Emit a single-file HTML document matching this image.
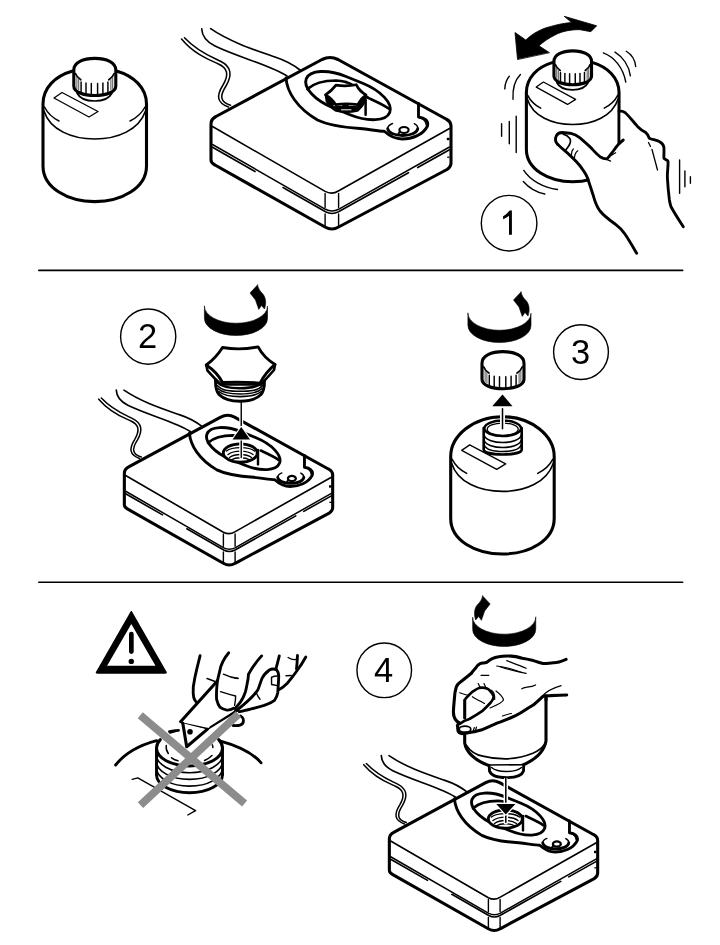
<!DOCTYPE html>
<html><head><meta charset="utf-8"><style>
html,body{margin:0;padding:0;background:#fff;width:720px;height:945px;overflow:hidden}
svg{position:absolute;left:0;top:0;will-change:transform}
text{font-family:"Liberation Sans",sans-serif}
</style></head><body>
<svg width="720" height="945" viewBox="0 0 720 945" fill="none" stroke="#000" stroke-linecap="round" stroke-linejoin="round">
<defs>
<!-- bottle body without cap, in bottle-1 coordinates -->
<g id="bbody">
  <path vector-effect="non-scaling-stroke" d="M72.6,71 C55,76 43,88 43,104 L43,166 C43,188 68,201.6 94.75,201.6 C121.5,201.6 146.5,188 146.5,166 L146.5,104 C146.5,88 134,76 116.4,71" stroke-width="3.08" fill="#fff"/>
  <use href="#binner"/>
</g>
<g id="binner">
  <path vector-effect="non-scaling-stroke" d="M44,111 C50,130 72,139 94.75,139 C117.5,139 139,130 145.5,111" stroke-width="1.62"/>
  <path vector-effect="non-scaling-stroke" d="M44.5,107 C48,114 53,118 59,121" stroke-width="1.51"/>
  <path vector-effect="non-scaling-stroke" d="M145,107 C141.5,114 136,118 130,121" stroke-width="1.51"/>
  <path vector-effect="non-scaling-stroke" d="M54,98 L62,92.5 L98,111.5 L89,117 Z" stroke-width="1.30"/>
</g>
<g id="bcap">
  <path vector-effect="non-scaling-stroke" d="M77,93 C80,99 88,101 94.5,101 C101,101 109,99 112,93" stroke-width="1.73"/>
  <use href="#bcap0"/>
</g>
<g id="bcap0">
  <path vector-effect="non-scaling-stroke" d="M73.8,70 C73.8,62.5 83,58.4 94.8,58.4 C106.6,58.4 115.8,62.5 115.8,70 L115.8,86 C115.8,92 106,95.5 94.8,95.5 C83.6,95.5 73.8,92 73.8,86 Z" stroke-width="3.1" fill="#fff"/>
  <path vector-effect="non-scaling-stroke" d="M75.5,73.5 C76.3,76 78.2,78.2 80.8,79.8 M114.1,73.5 C113.3,76 111.4,78.2 108.8,79.8" stroke-width="1.7"/>
  <path vector-effect="non-scaling-stroke" d="M76.9,77.5 V88.5 M78.7,79 V90" stroke-width="1" stroke="#555"/>
  <path vector-effect="non-scaling-stroke" d="M112.7,77.5 V88.5 M110.9,79 V90" stroke-width="1" stroke="#555"/>
  <path vector-effect="non-scaling-stroke" d="M81.1,82 V92.3 M86,83 V93.3 M91.3,83.5 V94 M97.6,83.5 V94 M102.9,83 V93.5 M107.9,82 V92.5" stroke-width="1.45"/>
</g>
<!-- device, in top-device coordinates -->
<g id="dev">
  <!-- cables -->
<path vector-effect="non-scaling-stroke" d="M181.5,39 C195,55 210,60 218,63.7 C228,68 229,75 223,85 C216,96 217,103 228.5,107" stroke-width="1.51"/>
<path vector-effect="non-scaling-stroke" d="M184.5,37.7 C198,52 212,57 220,61 C231.5,66.5 232.5,75 226,86 C219.5,96 220,102 230.5,105.2" stroke-width="1.51"/>
<path vector-effect="non-scaling-stroke" d="M201.7,28.7 C202,36 207,42 215,46 C240,58 270,65 287,76" stroke-width="1.62"/>
<path vector-effect="non-scaling-stroke" d="M210.6,28.7 C230,42 255,50 275,57 C287,61 295,66 300,70" stroke-width="1.62"/>
  <!-- box silhouette -->
  <path vector-effect="non-scaling-stroke" d="M211,160 L211,124 Q211,119 216,116.5 L322,59.5 Q330,55.5 338,59.5 L446,119 Q451,121.5 451,126 L451,163 Q451,167 447,169.5 L338.6,227 Q332,231 325,227 L215,165 Q211,163 211,160 Z" stroke-width="3.08" fill="#fff"/>
  <!-- top face front edges -->
  <path vector-effect="non-scaling-stroke" d="M212.5,126.5 L325.1,191.4 Q331.9,195 338.3,191 L449.5,128.5" stroke-width="1.62"/>
  <!-- seam -->
  <path vector-effect="non-scaling-stroke" d="M212.5,144.5 L325.5,209.3 Q331.9,212.5 338.5,209.3 L449.5,147" stroke-width="1.51"/>
  <path vector-effect="non-scaling-stroke" d="M212.5,147.3 L255,171.56 M283,187.54 L325.5,211.8 Q331.9,215.1 338.5,211.8 L408.5,172.7 M417.7,167.56 L449.5,149.8" stroke-width="1.62"/>
  <path vector-effect="non-scaling-stroke" d="M325.1,193.5 V207.5 M338.6,193.5 V207.5 M325.1,214 V226 M338.6,214 V226" stroke-width="1.40"/>
  <path vector-effect="non-scaling-stroke" d="M446.8,139 L449.5,139" stroke-width="2.42" stroke-linecap="butt"/>
  <path vector-effect="non-scaling-stroke" d="M447.2,157.2 L449.5,157.2" stroke-width="1.30" stroke-linecap="butt"/>
  <!-- panel -->
  <path vector-effect="non-scaling-stroke" d="M286,78 C287,92 297,108 317.5,120 C330,126 345,127.5 360,128.5 C370,129.5 378,131 384.3,131.3 C390,136.5 396,139 402,139 C412,139 423,135 427.5,126 C429,120 424,118 418.5,117 L418.5,103.5" stroke-width="2.86"/>
  <!-- oval -->
  <rect vector-effect="non-scaling-stroke" x="-45" y="-17" width="90" height="34" rx="36" ry="17" transform="translate(348 95.6) rotate(22)" stroke-width="2.86" fill="#fff"/>
  <path vector-effect="non-scaling-stroke" d="M307.5,89 C314,83 324,80.5 336,80.5 C339.6,80.65 342.84,81.2 345.77,82.07 M368.2,97.9 C376,101.5 383,104.5 388.6,108.5" stroke-width="2.64"/>
  <!-- knob -->
  <path vector-effect="non-scaling-stroke" d="M387.7,128.6 A15,6.9 0 0 0 417.7,128.6" stroke-width="2.86"/>
  <path vector-effect="non-scaling-stroke" d="M387.7,128.6 A15,6.9 0 0 1 392.5,123.5 M417.7,128.6 A15,6.9 0 0 0 414.3,123.7 M420.3,117.8 C423.5,119 425.8,121.5 426.2,124.8" stroke-width="1.40"/>
  <ellipse vector-effect="non-scaling-stroke" cx="404" cy="130" rx="4.6" ry="3" stroke-width="2.20"/>
  <path vector-effect="non-scaling-stroke" d="M400,131.5 L397.7,134.7" stroke-width="1.94"/>
</g>
<g id="rot">
  <path d="M204.4,306.25 A31.55,17 0 0 0 267.5,306.25 L267.5,318.5 A31.55,17 0 0 1 204.4,318.5 Z" fill="#000" stroke-width="0.6"/>
  <path d="M257.5,285 L250,293 L255.5,300 L258.75,309.4 L261.5,305.5 L264.5,309 C266.5,303 266,297 262,293 C260,291 258.5,289 257.5,285 Z" fill="#000" stroke-width="0.6"/>
</g>
<g id="hole">
  <ellipse cx="240.3" cy="453.1" rx="17" ry="9.2" stroke-width="2.86" fill="#fff"/>
  <path d="M226.5,451 C232,446.5 249,446.5 254.5,451 M228,454.5 C234,450 247,450 253,454.5 M229.5,457.5 C235,453.5 246,453.5 251.5,457.5 M231,460 C236,457 245,457 250,460" stroke-width="1.40"/>
  <path d="M258,450 V464.4" stroke-width="2.42"/>
</g>
</defs>

<!-- separators -->
<path d="M38.8,270.4 H682.7 M38.8,582.3 H682.7" stroke-width="1.6"/>

<!-- section 1 -->
<use href="#bbody"/>
<use href="#bcap"/>

<use href="#dev"/>
<g id="nut">
  <path d="M345.77,82.07 C352.62,84.09 357.8,87.8 362,92 C364.5,94.5 366,96.5 368.2,97.9" stroke-width="2.64"/>
  <path d="M325.5,94.9 L326.3,101 Q330,107.5 336,111 Q346.5,113.5 357.5,111 Q363,106.5 365.8,100.5 L366,94.9 Z" fill="#000" stroke="#000" stroke-width="1.62"/>
  <path d="M334,105.6 L342,105.4 M349,105.4 L356.5,105.6 M341.5,109.8 L351,109.8" stroke="#fff" stroke-width="1"/>
  <path d="M336,85.1 Q346,86.8 356.3,84.75 Q359.5,91.5 366,94.9 Q360.5,99 357.75,104.6 Q346.5,103.2 335.6,104.6 Q332,98.5 325.5,94.9 Q331.5,91 336,85.1 Z" stroke-width="2.75" fill="#fff"/>
  <path d="M365.6,100.5 L365.6,114.75" stroke-width="2.53"/>
</g>

<!-- section 1 right: bottle in hand -->
<g transform="matrix(0.895 0 0 0.914 487.9 -2.5)">
<use href="#bbody"/>
<use href="#bcap"/>
</g>
<!-- curved double arrow -->
<path d="M517.5,59.2 L515,32.5 L525.8,40 C533,33 542,28.5 550,26.7 C557,24.5 565,23 571.7,22.5 L564.2,16.3 L596.7,25.8 L590.8,31.7 L580,29.7 C572,29.5 562,31 555,35 C549,38 543,42 539,45.8 L549.2,52.5 Z" fill="#000" stroke-width="0.8"/>
<!-- vibration lines -->
<g stroke-width="1.40">
<path d="M509.3,76.3 C506,80 505,84 504.8,88.9"/>
<path d="M520.4,74.5 C515,80 512.5,90 513,99.3"/>
<path d="M501.6,123.7 V136.3 M509.3,121.5 V143.7 M516.2,116.3 V152.6"/>
<path d="M523.75,170.4 C530,180 543,187.5 557.5,189.5"/>
<path d="M523.3,181.5 C529,188 537,192.5 544.8,194"/>
<path d="M603.3,52.9 C614,57 623,67 625.8,82.1"/>
<path d="M615,52.1 C623,57 629,66 630.4,75.8"/>
<path d="M626.25,51.25 C631,54 635,60 635.7,66.5"/>
<path d="M679.6,160 V193.3 M684.9,171 V186.7 M690.4,176.7 V183.3"/>
</g>
<!-- hand -->
<path d="M557.8,144.6 C555.5,142 555,138.5 556.3,135.8 C557.5,133.5 559.6,132.6 562.2,132.5 C565,133 568,133 571,133.3 C574,134 577,135.5 580,137.8 C584,141 588,145 591,147.8 C594,151 597,154.5 600,156.7 C602,158 604,159 606.7,158.9 C609,157 611,154 613.3,151 L620.6,143 L620.6,111.5 C621,110.8 623.5,111.5 625,112.5 C629,116 633,121.5 637.5,126.4 C640,129 643,131 645.8,132.6 C647.5,134 648.5,136 649.3,138.2 C652,139.5 656,140 659.7,141.7 C662,143 663.5,145 663.9,147.2 C664.2,151 663.8,155 663.9,158.3 C665,159.5 667,160 668,161.1 C668.5,166 667,172 667.4,177.8 C667.8,185 668.5,193 669.4,200 C669.8,202.5 670.3,204.8 671,206.7 C675,214 679,220 683.3,226.7 L636.7,253.3 C633,247 629,240 624.4,233.3 C622,230 619,227 615.6,224.4 C611,221 605,217 600,211 C597,207 595,202 593.3,195.6 C592,192 591,188 588.9,182.2 C588,178 586,174 582.2,168.9 C579,164 574,159 568.9,154.4 C566,151 562,149 557.8,144.4 Z" fill="#fff" stroke="none"/>
<path d="M557.8,144.4 C562,149 566,151 568.9,154.4 C574,159 579,164 582.2,168.9 C586,174 588,178 588.9,182.2 C591,188 592,192 593.3,195.6 C595,202 597,207 600,211 C605,217 611,221 615.6,224.4 C619,227 622,230 624.4,233.3 C629,240 633,247 636.7,253.3" stroke-width="2.86"/>
<path d="M619,111.5 C621,110.8 623.5,111.5 625,112.5 C629,116 633,121.5 637.5,126.4 C640,129 643,131 645.8,132.6 C647.5,134 648.5,136 649.3,138.2 C652,139.5 656,140 659.7,141.7 C662,143 663.5,145 663.9,147.2 C664.2,151 663.8,155 663.9,158.3 C665,159.5 667,160 668,161.1 C668.5,166 667,172 667.4,177.8 C667.8,185 668.5,193 669.4,200 C669.8,202.5 670.3,204.8 671,206.7 C675,214 679,220 683.3,226.7" stroke-width="2.86"/>
<path d="M557.8,144.6 C555.5,142 555,138.5 556.3,135.8 C557.5,133.5 559.6,132.6 562.2,132.5 C565,133 568,133 571,133.3 C574,134 577,135.5 580,137.8 C584,141 588,145 591,147.8 C594,151 597,154.5 600,156.7 C602,158 604,159 606.7,158.9 C609,157 611,154 613.3,151 C616,147 619,143 623.3,140" stroke-width="2.86"/>
<path d="M563.3,134.1 C566,134.8 568,136 569.8,138.5 C571,140.5 570.5,143 569,145.5 C568,147.2 566.8,148.6 565.6,150.2" stroke-width="1.7"/>
<path d="M571.5,154.5 C571.5,152 572.2,150 573.3,149 M574.5,157.5 C574.8,154.5 576,152 577.8,150.8" stroke-width="1.2"/>
<path d="M606.7,159.4 L610.6,161.1 M611.4,155.3 L615.6,152.8" stroke-width="1.30"/>
<path d="M648.5,142.5 L650.5,146.5 M652,149.5 L657.5,170" stroke-width="1.3"/>
<!-- circle 1 -->
<circle cx="509.1" cy="223.2" r="27.8" stroke-width="1.40"/>
<path d="M509,234.8 L511.9,234.8 L511.9,210.4 L509.6,210.4 C508,212.6 506,214.6 503.1,216.2 L503.1,219.2 C505.5,218.2 507.5,217 509,215.7 Z" fill="#000" stroke="none"/>

<!-- section 2 left -->
<g transform="matrix(0.868 0 0 0.873 -58.8 365.1)"><use href="#dev"/></g>
<use href="#hole"/>
<use href="#rot"/>
<path d="M241.25,400 V457.5" stroke="#fff" stroke-width="4"/>
<path d="M241.25,400 V457.5" stroke-width="1.40"/>
<path d="M241.25,426.9 L250,439.4 L232.5,439.4 Z" fill="#000" stroke="#fff" stroke-width="2"/>
<path d="M241.25,426.9 L250,439.4 L232.5,439.4 Z" fill="#000" stroke="none"/>
<!-- hex knob -->
<path d="M215.5,374 L215.5,381 C215.5,387 216,391 219,394.5 C224,399.5 232,401.2 240,401.2 C248,401.2 256,399.5 261,394.5 C264,391 264.5,387 264.5,381 L264.5,374 Z" stroke-width="2.9" fill="#fff"/>
<path d="M217,382 C222,387.5 231,388.3 240,388.3 C249,388.3 258,387.5 263,382" stroke-width="2.6"/>
<path d="M217.3,385.5 C222,391 231,391.3 240,391.3 C249,391.3 258,391 262.7,385.5 M217.8,388.5 C223,393.5 231,394 240,394 C249,394 257,393.5 262.2,388.5 M218.8,391.5 C224,396 232,396.6 240,396.6 C248,396.6 256,396 261.2,391.5" stroke-width="1.6"/>
<path d="M206.25,365 L207.5,370.6 Q214,378 221,384.5 L261,384.5 Q267,378 274,370 L275,364.4" stroke-width="2.64" fill="#fff"/>
<path d="M222.5,347.5 Q240,350.5 258.1,346.9 Q264,358 275,364.4 Q266,372 260,383.1 Q241,381.5 222.5,382.5 Q217,372 206.25,365 Q216,358 222.5,347.5 Z" stroke-width="2.86" fill="#fff"/>
<circle cx="148.2" cy="336.6" r="27.6" stroke-width="1.40"/>
<text x="147.5" y="348" font-size="34.5" text-anchor="middle" fill="#000" stroke="none">2</text>

<!-- section 3 -->
<g transform="translate(407.7 352.4)">
<path d="M43,104 C43,84 65,64.3 94.75,64.3 C124.5,64.3 146.5,84 146.5,104 L146.5,166 C146.5,188 121.5,201.6 94.75,201.6 C68,201.6 43,188 43,166 Z" stroke-width="3.08" fill="#fff"/>
<use href="#binner"/></g>
<path d="M483.7,428 L483.7,449.5 C483.7,452.5 492,454.5 502.7,454.5 C513.4,454.5 521.7,452.5 521.7,449.5 L521.7,428 Z" stroke-width="2.64" fill="#fff"/>
<path d="M484.2,435.5 C486,440 494,442.5 502.7,442.5 C511.4,442.5 519.4,440 521.2,435.5 M484.2,440.5 C486,445 494,447.5 502.7,447.5 C511.4,447.5 519.4,445 521.2,440.5 M484.2,445 C486,449.5 494,451.5 502.7,451.5 C511.4,451.5 519.4,449.5 521.2,445" stroke-width="1.62"/>
<ellipse cx="502.7" cy="428.3" rx="18.3" ry="7.8" stroke-width="2.42" fill="#fff"/>
<ellipse cx="502.7" cy="429.3" rx="15.5" ry="6.2" stroke-width="1.30"/>
<g transform="translate(408.2 293.25)"><use href="#bcap0"/></g>
<path d="M502.5,408.75 V428.75" stroke="#fff" stroke-width="5"/>
<path d="M502.5,408.75 V428.75" stroke-width="1.51"/>
<path d="M502.5,394.4 L512.5,406.25 L492.25,406.25 Z" fill="#000" stroke="none"/>
<g transform="translate(263.5 7)"><use href="#rot"/></g>
<circle cx="581" cy="352.1" r="27.4" stroke-width="1.40"/>
<text x="580.5" y="364" font-size="34.5" text-anchor="middle" fill="#000" stroke="none">3</text>

<!-- section 4 -->
<g transform="matrix(0.868 0 0 0.873 206.2 730.6)"><use href="#dev"/></g>
<g transform="translate(265 366)"><use href="#hole"/></g>
<g transform="matrix(-1 0 0 1 740.15 310.95)"><use href="#rot"/></g>
<circle cx="384.25" cy="670.35" r="27.3" stroke-width="1.40"/>
<text x="383.5" y="681.8" font-size="34.5" text-anchor="middle" fill="#000" stroke="none">4</text>
<!-- inverted bottle -->
<path d="M464.7,700 L464.7,743 C466,752 475,761 489.7,765.8 L521.7,765.5 C535,760 544,752 546,741 L546,696" stroke-width="3.08" fill="#fff"/>
<path d="M466.1,745 C470,751 476,755 482.8,756.1 C490,758 498,759 506.4,758.9 C515,758.5 525,756.5 532.8,753.3 C538,751 542,748 543.9,745" stroke-width="1.62"/>
<path d="M489.2,765.8 L489.5,771 C491,775.5 498,777.6 506.4,777.6 C514.8,777.6 522,775.5 523.5,771 L523.7,765.5" stroke-width="2.86" fill="#fff"/>
<path d="M491.5,767.5 C495,770.5 500,771.5 506.4,771.5 C512.8,771.5 518,770.5 521.5,767.5" stroke-width="1.51"/>
<path d="M505.8,780 V822.2" stroke="#fff" stroke-width="4.5"/>
<path d="M505.8,777.6 V822.2" stroke-width="1.51"/>
<path d="M496.3,804 L515.4,804 L505.8,814.5 Z" fill="#000" stroke="#fff" stroke-width="2.5"/>
<path d="M496.3,804 L515.4,804 L505.8,814.5 Z" fill="#000" stroke="none"/>
<!-- hand 4 -->
<path d="M566.1,659.4 C560,662 556,663 553.3,662.8 C549,663 545,664 542.2,663.3 C538,662 536,661.5 533.3,660.6 C529,659.5 526,658.8 522.2,658.3 C518,657 514,656 511.1,656.1 C506,655.8 502,656 498.6,656.8 C494,657.5 491,658.5 487,662.2 C484,663 482,663 480.1,663.6 C477,665 476,667 475.3,668.5 C473,671 472,672 471.4,673.3 C467,677 464,679 461.7,681.1 C459,683 457,685 456.3,687 C455,691 454.5,695 454.4,698.6 C454,703 453.5,708 453.4,712.2 C453.5,716 454.5,718.5 455.8,720 C456.5,721 457.5,722 459.2,722.9 C457.5,724.5 457,726 457.8,726.8 C457.5,729 458,731.5 459.2,732.6 C461,733.5 462.5,733.8 464.6,733.6 C468,733 471,732.3 474.3,731.7 C477,731 479.5,730.5 482.1,729.7 C485,728.5 488,727 490.8,725.8 C494,724.5 497,723 500.6,721.9 C504,720.5 507,719.3 510.3,718 C514,716.5 517,715 520,713.2 C525,710 530,707 533.3,705 C537,702 540,699 543.3,696.1 C545.5,695.7 548,695.6 550,695.6 C556,695.4 561,695.2 566.7,695 L566.7,659.4 Z" stroke-width="0" fill="#fff" stroke="none"/>
<path d="M566.1,659.4 C560,662 556,663 553.3,662.8 C549,663 545,664 542.2,663.3 C538,662 536,661.5 533.3,660.6 C529,659.5 526,658.8 522.2,658.3 C518,657 514,656 511.1,656.1 C506,655.8 502,656 498.6,656.8 C494,657.5 491,658.5 487,662.2 C484,663 482,663 480.1,663.6 C477,665 476,667 475.3,668.5 C473,671 472,672 471.4,673.3 C467,677 464,679 461.7,681.1 C459,683 457,685 456.3,687 C455,691 454.5,695 454.4,698.6 C454,703 453.5,708 453.4,712.2 C453.5,716 454.5,718.5 455.8,720 C456.5,721 457.5,722 459.2,722.9" stroke-width="3.08"/>
<path d="M459.2,722.9 C457.5,724.5 457,726 457.8,726.8 C457.5,729 458,731.5 459.2,732.6 C461,733.5 462.5,733.8 464.6,733.6 C468,733 471,732.3 474.3,731.7 C477,731 479.5,730.5 482.1,729.7 C485,728.5 488,727 490.8,725.8 C494,724.5 497,723 500.6,721.9 C504,720.5 507,719.3 510.3,718 C514,716.5 517,715 520,713.2 C525,710 530,707 533.3,705 C537,702 540,699 543.3,696.1 C545.5,695.7 548,695.6 550,695.6 C556,695.4 561,695.2 566.7,695" stroke-width="3.08"/>
<path d="M464.7,700 L464.7,718" stroke-width="3.08"/>
<path d="M546,696 L546,700" stroke-width="3.08"/>
<path d="M459.7,723.9 C463,721.5 466,720 469.4,719 C474,716.5 478,714 482.1,711.2 C485,708.5 488,705.5 490.8,702.5 C492.5,700.5 493.5,698.5 493.7,696.7 C493,694.5 492,693 490.8,691.8 C489.5,690 488.3,689 487,688.4 C484,687.5 481.5,687.5 479.2,687.9 C476.5,689 474.5,690.5 472.4,691.8 C470,694 467.5,696.5 465.6,698.6" stroke-width="2.64"/>
<ellipse cx="465" cy="729.2" rx="5.8" ry="3" stroke-width="1.73"/>
<g stroke-width="1.19">
<path d="M459.7,692.8 C463,694 466,695 469,695.5"/>
<path d="M472.4,696.7 C476,699 480,701 484.5,703.5"/>
<path d="M478.2,683.5 L480.5,688 M484,683.5 L486.5,689"/>
<path d="M491,690 C493,691 495,694 494.7,699.5 M496,691 C500,694 503,697 503.5,700 C502,703 497,705 490,708"/>
<path d="M481,675.3 L488.8,675.3"/>
<path d="M502.5,716 C505,715 508,714 511.5,713.5"/>
<path d="M496.7,666 C505,667 515,670 522,672.5"/>
<path d="M506.7,660.6 C513,663 520,665.5 526.1,668.3"/>
<path d="M500,666.7 C507,669 517,672 526.1,673.3"/>
<path d="M521.7,688.9 C524,686.5 530,688 535.6,684.9"/>
<path d="M542.8,696.1 C546,691 553,688 561.1,685.6"/>
<path d="M473.3,731 L474.3,727.5 M475.5,730.5 L476.5,727"/>
</g>

<!-- warning section -->
<path d="M131.3,611.6 L165.8,671.8 Q167,673 165,673 L97.6,673 Q95.6,673 96.8,671.8 Z" fill="#000" stroke="#000" stroke-width="1.30"/>
<path d="M131.3,623.9 L155.5,665.8 L107.1,665.8 Z" fill="#fff" stroke="none"/>
<path d="M131.35,634 V651.6" stroke-width="4.7"/>
<circle cx="131.3" cy="661.4" r="2.7" fill="#000" stroke="none"/>

<!-- warning illustration -->
<!-- dome arcs -->
<path d="M115.6,765 C125,753 140,745 156.7,740.6" stroke-width="2.86"/>
<path d="M218.9,740.6 C235,745 252,752 261.1,762.8" stroke-width="2.86"/>
<!-- label line -->
<path d="M132.2,779.4 L137.8,777.9 L195.6,810.6 L187.8,815" stroke-width="1.40"/>
<!-- neck cylinder -->
<path d="M156.5,748 L156.5,774.8 A33,18 0 0 0 222.5,774.8 L222.5,748 A33,18 0 0 0 156.5,748 Z" stroke="none" fill="#fff"/>
<path d="M156.5,748 L156.5,774.8 M222.5,748 L222.5,774.8" stroke-width="2.9"/>
<path d="M156.5,774.8 A33,18 0 0 0 222.5,774.8" stroke-width="2.9"/>
<path d="M156.5,754.7 A33,18 0 0 0 222.5,754.7 M156.5,761.4 A33,18 0 0 0 222.5,761.4 M156.5,768.1 A33,18 0 0 0 222.5,768.1" stroke-width="1.6"/>
<path d="M160.3,739.6 A33,18 0 0 0 156.5,748 A33,18 0 0 0 222.5,748 A33,18 0 0 0 218.7,739.6" stroke-width="3"/>
<path d="M169.4,731.5 A33,18 0 0 1 178.5,730.3" stroke-width="2.8"/>
<path d="M166.3,745.5 C165.8,748 166.5,751 168.3,753.5 M171.5,757.8 C173.5,759.2 175.5,760.2 178,760.8 M204.5,760.5 C207.5,759.2 210,757.5 212,755.5 M212.8,747.5 C213,746.5 212.7,745.5 212.3,744.8" stroke-width="1.5"/>
<!-- hand -->
<g stroke-width="2.86">
<path d="M200.1,655.7 C198.5,662 197.5,666 196.7,669.3 C195,676 194,682 193.3,686.8 C193,691 193.2,695 193.75,697.5 C194.2,699 194.8,700.3 195.7,701.4"/>
</g>
<!-- knife -->
<path d="M180.6,721.7 L216.1,682.2 L237.2,711.1 L208.3,728.9 Z" fill="#fff" stroke="none"/>
<path d="M180.6,721.7 L220,678" stroke-width="3.08"/>
<path d="M180.6,721.7 L182.8,723.3 L208.3,728.9" stroke-width="1.73"/>
<path d="M208.3,728.9 L237.2,711.1 M210,727 L236,710.5" stroke-width="1.40"/>
<path d="M182.8,723.3 L207.2,729.4 L186.7,746.7 Z" fill="#fff" stroke="none"/>
<path d="M182.8,723.3 L186.7,746.7 L207.2,729.4" stroke-width="3.08"/>
<circle cx="190" cy="731.7" r="2.8" fill="#000" stroke="none"/>
<path d="M219.5,672.2 C218.5,676 217.5,680 217.1,683.9 C216.5,690 216.3,695 216.6,699.4 C217.5,703 218.5,705.5 220,707.2 C222,708.8 224.5,709.8 226.8,710.1 C229,710.3 231.5,709.5 233.6,708.2 L235,708.5 C237,706.5 238.5,704.5 240.2,702.3 C242.5,699.5 244,696 245.4,691.9 C246.5,688 247,684 248,679.4 L248.5,674.2 C244,668 230,662 222.9,661.5 Z" fill="#fff" stroke="none"/>
<g stroke-width="2.86">
<path d="M228.75,652.8 C226,656 224.5,658.5 222.9,661.5 C221,665 220,669 219.5,672.2 C218.5,676 217.5,680 217.1,683.9 C216.5,690 216.3,695 216.6,699.4 C217.5,703 218.5,705.5 220,707.2 C222,708.8 224.5,709.8 226.8,710.1 C229,710.3 231.5,709.5 233.6,708.2"/>
<path d="M261.6,655.9 C256,662 252,668 248.5,674.2 L248,679.4 C247,684 246.5,688 245.4,691.9 C244,696 242.5,699.5 240.2,702.3 C238.5,704.5 237,706.5 235,708.5"/>
<path d="M239.2,711.7 C243,710.8 247,710 250.6,709.1 C255,708 260,706.8 264.2,705.4 C268,704 272,702.5 274.6,700.2 C276.5,697.5 277.3,695 277.7,692.9 C278.2,687 278.6,681 278.75,676.25 C278.5,673 277.8,671 276.7,670 C274,668.5 271.5,668.8 269.4,670 C266,672.5 263.5,675 262.1,678.3 C260.5,682 259.5,686 257.9,689.8 C254,696 245,704 235,711.7"/>
<path d="M279.3,655.9 C278.3,660 277.2,664 276.1,668.4"/>
<path d="M305.8,657 C303,662 300.5,666 297.5,670 C294,675 290.5,679.5 287.1,683.5 C284,686.5 281.5,688.5 278.75,689.8"/>
<path d="M297.5,655.4 C297.3,660 297,665 296.5,669"/>
</g>
<g stroke-width="1.40">
<path d="M220.5,691.7 C225,693.2 230,694.8 235.6,696 C235.7,699 235.3,702 234.6,705.3"/>
<path d="M223.4,674.2 C228,676.5 233,678 238,678.5"/>
<path d="M207,678.5 C210,679.5 212.5,680.5 215,681.5"/>
<path d="M271.5,677.3 C273,676.5 275,676 277.7,676 M271.5,677.3 L271.6,684.5 L277.7,685.6"/>
<path d="M288.1,657.5 C291,659.3 293.5,660 295.4,659.5"/>
<path d="M286,675.7 L291.25,675.5"/>
<path d="M256.4,692.9 C257.5,695.5 258.5,697.5 260,699.2"/>
<path d="M235,678.3 L238,678.3"/>
</g>
<path d="M240.5,716 C243,717 244,720 243,723 C241.5,725.5 238,726 233,725.5" stroke-width="2.86"/>
<path d="M170,732.5 L175,731" stroke-width="2.42"/>
<!-- gray X -->
<path d="M140.25,715.25 L244.6,803.5 M238.45,714.2 L140.5,805.2" stroke="#8c8c8c" stroke-width="7.8" stroke-linecap="butt"/>

</svg>
</body></html>
